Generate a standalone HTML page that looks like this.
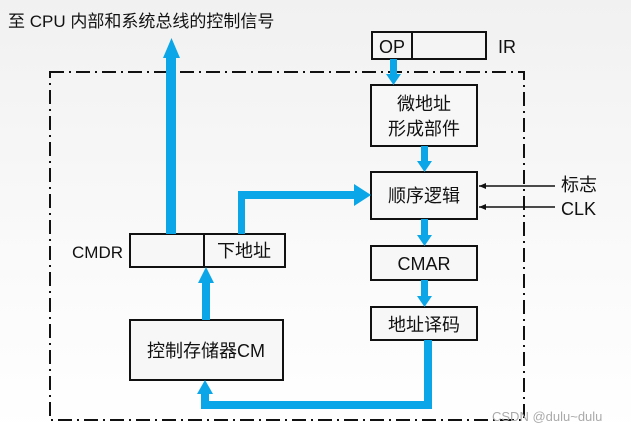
<!DOCTYPE html>
<html><head><meta charset="utf-8"><style>
html,body{margin:0;padding:0;background:#fafafa}
svg{display:block}
text{font-family:"Liberation Sans","Noto Sans CJK SC",sans-serif;fill:#111}
</style></head><body>
<svg width="631" height="433" viewBox="0 0 631 433" xmlns="http://www.w3.org/2000/svg">
<defs>
<linearGradient id="bg" x1="0" y1="0" x2="0" y2="1">
<stop offset="0" stop-color="#f1f1f1"/><stop offset="0.6" stop-color="#fafafa"/><stop offset="1" stop-color="#ffffff"/>
</linearGradient>
</defs>
<rect width="631" height="433" fill="url(#bg)"/>
<text x="8" y="27" font-size="17">至 CPU 内部和系统总线的控制信号</text>
<rect x="50" y="72" width="474" height="348" fill="none" stroke="#111" stroke-width="2" stroke-dasharray="14,5,2,5"/>
<rect x="372" y="32" width="114" height="27" fill="#f4f4f4" stroke="#111" stroke-width="2"/>
<line x1="412" y1="32" x2="412" y2="59" stroke="#111" stroke-width="2"/>
<text x="379" y="53" font-size="18">OP</text>
<text x="498" y="53" font-size="18">IR</text>
<rect x="371" y="85" width="106" height="61" fill="#f7f7f7" stroke="#111" stroke-width="2"/>
<text x="424" y="110" font-size="18" text-anchor="middle">微地址</text>
<text x="424" y="135" font-size="18" text-anchor="middle">形成部件</text>
<rect x="371" y="172" width="106" height="47" fill="#f7f7f7" stroke="#111" stroke-width="2"/>
<text x="424" y="202" font-size="18" text-anchor="middle">顺序逻辑</text>
<rect x="371" y="246" width="106" height="34" fill="#f7f7f7" stroke="#111" stroke-width="2"/>
<text x="424" y="270" font-size="18" text-anchor="middle">CMAR</text>
<rect x="371" y="307" width="106" height="33" fill="#f7f7f7" stroke="#111" stroke-width="2"/>
<text x="424" y="331" font-size="18" text-anchor="middle">地址译码</text>
<rect x="130" y="234" width="155" height="33" fill="#f7f7f7" stroke="#111" stroke-width="2"/>
<line x1="204" y1="234" x2="204" y2="267" stroke="#111" stroke-width="2"/>
<text x="244" y="257" font-size="18" text-anchor="middle">下地址</text>
<text x="72" y="258" font-size="17">CMDR</text>
<rect x="130" y="320" width="153" height="60" fill="#f7f7f7" stroke="#111" stroke-width="2"/>
<text x="206" y="357" font-size="18" text-anchor="middle">控制存储器CM</text>
<line x1="555" y1="186" x2="479" y2="186" stroke="#111" stroke-width="1.5"/>
<path d="M479 186 L486 183 L486 189Z" fill="#111"/>
<line x1="555" y1="207" x2="479" y2="207" stroke="#111" stroke-width="1.5"/>
<path d="M479 207 L486 204 L486 210Z" fill="#111"/>
<text x="561" y="191" font-size="18">标志</text>
<text x="561" y="215" font-size="18">CLK</text>
<g fill="#0aa6e8">
<rect x="390" y="59" width="7" height="16"/><path d="M386 74 L401 74 L393.5 85Z"/>
<rect x="421" y="146" width="7" height="16"/><path d="M417 161 L432 161 L424.5 172Z"/>
<rect x="421" y="219" width="7" height="17"/><path d="M417 235 L432 235 L424.5 246Z"/>
<rect x="421" y="280" width="7" height="17"/><path d="M417 296 L432 296 L424.5 307Z"/>
<rect x="166" y="56" width="10" height="178"/><path d="M163 58 L180 58 L171.5 38Z"/>
<rect x="238" y="191" width="7" height="43"/>
<rect x="238" y="191" width="118" height="8"/><path d="M354 184 L371 195 L354 206Z"/>
<rect x="202" y="282" width="8" height="38"/><path d="M198 283 L214 283 L206 267Z"/>
<rect x="424" y="340" width="8" height="69"/>
<rect x="201" y="401" width="231" height="8"/>
<rect x="201" y="392" width="8" height="17"/><path d="M197 394 L213 394 L205 380Z"/>
</g>
<text x="492" y="421" font-size="13" style="fill:#aaa">CSDN @dulu~dulu</text>
</svg>
</body></html>
